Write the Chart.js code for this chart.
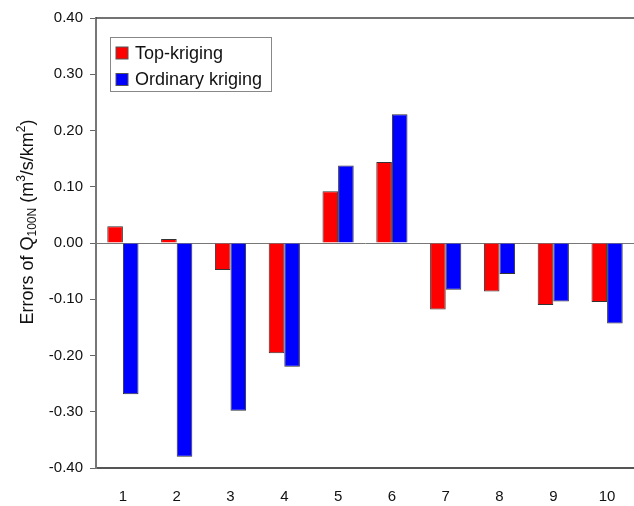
<!DOCTYPE html>
<html>
<head>
<meta charset="utf-8">
<script src="https://cdn.jsdelivr.net/npm/chart.js@4.4.0/dist/chart.umd.min.js"></script>
<style>
  html, body { margin: 0; padding: 0; background: #fff; }
  #wrap { width: 634px; height: 506px; }
</style>
</head>
<body>
<div id="wrap"><canvas id="errorChart"></canvas></div>
<script>
const categories = ['1', '2', '3', '4', '5', '6', '7', '8', '9', '10'];
const topKriging = [0.030, 0.007, -0.048, -0.196, 0.092, 0.144, -0.118, -0.086, -0.110, -0.105];
const ordinaryKriging = [-0.269, -0.380, -0.298, -0.220, 0.138, 0.229, -0.083, -0.055, -0.104, -0.143];
const seriesNames = ['Top-kriging', 'Ordinary kriging'];
const seriesColors = ['#ff0000', '#0000ff'];

const fontFamily = "'Liberation Sans', Arial, sans-serif";

// y title with subscript / superscript parts
const titleParts = [
    { text: 'Errors of Q', kind: 'normal' },
    { text: '100N', kind: 'sub' },
    { text: ' (m', kind: 'normal' },
    { text: '3', kind: 'sup' },
    { text: '/s/km', kind: 'normal' },
    { text: '2', kind: 'sup' },
    { text: ')', kind: 'normal' }
];

const decorations = {
    id: 'decorations',
    afterDraw(chart) {
        const ctx = chart.ctx;
        const area = chart.chartArea;

        // top frame line
        ctx.save();
        ctx.strokeStyle = '#444';
        ctx.lineWidth = 1.5;
        ctx.beginPath();
        ctx.moveTo(area.left, area.top);
        ctx.lineTo(area.right, area.top);
        ctx.stroke();
        ctx.restore();

        // legend box
        const lx = area.left + 14;
        const ly = area.top + 19;
        ctx.save();
        ctx.fillStyle = '#fff';
        ctx.fillRect(lx, ly, 161, 54);
        ctx.strokeStyle = '#888';
        ctx.lineWidth = 1;
        ctx.strokeRect(lx + 0.5, ly + 0.5, 161, 54);
        ctx.font = '18px ' + fontFamily;
        ctx.textBaseline = 'middle';
        chart.data.datasets.forEach((ds, i) => {
            const cy = ly + 16 + i * 26.5;
            ctx.fillStyle = ds.backgroundColor;
            ctx.fillRect(lx + 6, cy - 6, 12, 12);
            ctx.strokeStyle = '#555';
            ctx.strokeRect(lx + 6, cy - 6, 12, 12);
            ctx.fillStyle = '#111';
            ctx.fillText(ds.label, lx + 25, cy + 1);
        });
        ctx.restore();

        // rotated y axis title
        ctx.save();
        ctx.translate(33, (area.top + area.bottom) / 2 - 21);
        ctx.rotate(-Math.PI / 2);
        ctx.fillStyle = '#111';
        ctx.textBaseline = 'alphabetic';
        const fontFor = p => (p.kind === 'normal' ? '18px ' : '12px ') + fontFamily;
        let total = 0;
        titleParts.forEach(p => { ctx.font = fontFor(p); total += ctx.measureText(p.text).width; });
        let x = -total / 2;
        titleParts.forEach(p => {
            ctx.font = fontFor(p);
            const dy = p.kind === 'sub' ? 3 : (p.kind === 'sup' ? -8 : 0);
            ctx.fillText(p.text, x, dy);
            x += ctx.measureText(p.text).width;
        });
        ctx.restore();
    }
};

function drawChart() {
    const ctx = document.getElementById('errorChart').getContext('2d');

    new Chart(ctx, {
        type: 'bar',
        data: {
            labels: categories,
            datasets: [
                {
                    label: seriesNames[0],
                    data: topKriging,
                    backgroundColor: seriesColors[0],
                    borderColor: '#333',
                    borderWidth: 1,
                    barPercentage: 1,
                    categoryPercentage: 0.58
                },
                {
                    label: seriesNames[1],
                    data: ordinaryKriging,
                    backgroundColor: seriesColors[1],
                    borderColor: '#333',
                    borderWidth: 1,
                    barPercentage: 1,
                    categoryPercentage: 0.58
                }
            ]
        },
        options: {
            responsive: true,
            maintainAspectRatio: false,
            animation: false,
            layout: { padding: { top: 18, right: 0, left: 0, bottom: 0 } },
            plugins: {
                legend: { display: false },
                tooltip: { enabled: false }
            },
            scales: {
                x: {
                    grid: { display: false },
                    border: { display: true, color: '#555', width: 2 },
                    ticks: {
                        color: '#111',
                        font: { size: 15, family: fontFamily },
                        padding: 12,
                        maxRotation: 0
                    },
                    afterFit(scale) { scale.height = 38; }
                },
                y: {
                    min: -0.4,
                    max: 0.4,
                    border: { display: true, color: '#777', width: 2 },
                    grid: {
                        color: c => (Math.abs(c.tick.value) < 1e-9 ? '#777' : 'rgba(0,0,0,0)'),
                        tickColor: '#666',
                        tickLength: 6,
                        lineWidth: 1
                    },
                    ticks: {
                        stepSize: 0.1,
                        color: '#111',
                        font: { size: 15, family: fontFamily },
                        padding: 7,
                        callback: v => v.toFixed(2)
                    },
                    afterFit(scale) { scale.width = 96; }
                }
            }
        },
        plugins: [decorations]
    });
}

document.addEventListener('DOMContentLoaded', drawChart);
</script>
</body>
</html>
